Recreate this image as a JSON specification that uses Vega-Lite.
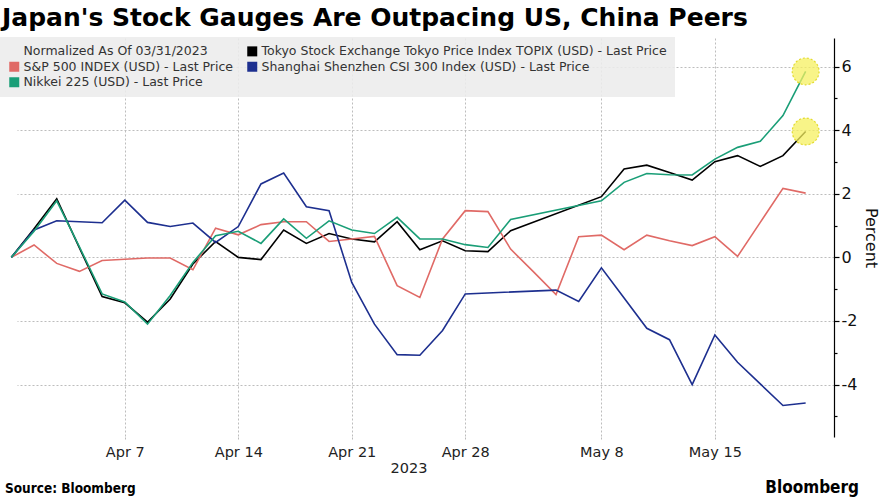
{
  "$schema": "https://vega.github.io/schema/vega-lite/v6.json",
  "background": "white",
  "padding": {"left": 0, "top": 6, "right": 2, "bottom": 2},
  "config": {"view": {"stroke": null}, "font": "DejaVu Sans", "concat": {"spacing": 0}},
  "title": {"text": "Japan's Stock Gauges Are Outpacing US, China Peers", "anchor": "start", "font": "DejaVu Sans", "fontWeight": "bold", "fontSize": 25, "color": "#000", "offset": 6, "dx": 2},
  "datasets": {
    "names": [
      {"code": "TOPIX", "name": "Tokyo Stock Exchange Tokyo Price Index TOPIX (USD) - Last Price"},
      {"code": "SPX", "name": "S&P 500 INDEX (USD) - Last Price"},
      {"code": "CSI", "name": "Shanghai Shenzhen CSI 300 Index (USD) - Last Price"},
      {"code": "NKY", "name": "Nikkei 225 (USD) - Last Price"}
    ],
    "prices": [
      {"date": "2023-03-31", "code": "TOPIX", "value": 0},
      {"date": "2023-04-03", "code": "TOPIX", "value": 0.9},
      {"date": "2023-04-04", "code": "TOPIX", "value": 1.84},
      {"date": "2023-04-05", "code": "TOPIX", "value": 0.3},
      {"date": "2023-04-06", "code": "TOPIX", "value": -1.23},
      {"date": "2023-04-07", "code": "TOPIX", "value": -1.43},
      {"date": "2023-04-10", "code": "TOPIX", "value": -2.04},
      {"date": "2023-04-11", "code": "TOPIX", "value": -1.31},
      {"date": "2023-04-12", "code": "TOPIX", "value": -0.21},
      {"date": "2023-04-13", "code": "TOPIX", "value": 0.5},
      {"date": "2023-04-14", "code": "TOPIX", "value": 0.0},
      {"date": "2023-04-17", "code": "TOPIX", "value": -0.07},
      {"date": "2023-04-18", "code": "TOPIX", "value": 0.86},
      {"date": "2023-04-19", "code": "TOPIX", "value": 0.44},
      {"date": "2023-04-20", "code": "TOPIX", "value": 0.75},
      {"date": "2023-04-21", "code": "TOPIX", "value": 0.58},
      {"date": "2023-04-24", "code": "TOPIX", "value": 0.49},
      {"date": "2023-04-25", "code": "TOPIX", "value": 1.12},
      {"date": "2023-04-26", "code": "TOPIX", "value": 0.24},
      {"date": "2023-04-27", "code": "TOPIX", "value": 0.52},
      {"date": "2023-04-28", "code": "TOPIX", "value": 0.21},
      {"date": "2023-05-01", "code": "TOPIX", "value": 0.18},
      {"date": "2023-05-02", "code": "TOPIX", "value": 0.84},
      {"date": "2023-05-08", "code": "TOPIX", "value": 1.91},
      {"date": "2023-05-09", "code": "TOPIX", "value": 2.78},
      {"date": "2023-05-10", "code": "TOPIX", "value": 2.9},
      {"date": "2023-05-11", "code": "TOPIX", "value": 2.67},
      {"date": "2023-05-12", "code": "TOPIX", "value": 2.43},
      {"date": "2023-05-15", "code": "TOPIX", "value": 3.01},
      {"date": "2023-05-16", "code": "TOPIX", "value": 3.2},
      {"date": "2023-05-17", "code": "TOPIX", "value": 2.86},
      {"date": "2023-05-18", "code": "TOPIX", "value": 3.2},
      {"date": "2023-05-19", "code": "TOPIX", "value": 3.96},
      {"date": "2023-03-31", "code": "SPX", "value": 0},
      {"date": "2023-04-03", "code": "SPX", "value": 0.39},
      {"date": "2023-04-04", "code": "SPX", "value": -0.19},
      {"date": "2023-04-05", "code": "SPX", "value": -0.44},
      {"date": "2023-04-06", "code": "SPX", "value": -0.1},
      {"date": "2023-04-10", "code": "SPX", "value": -0.02},
      {"date": "2023-04-11", "code": "SPX", "value": -0.02},
      {"date": "2023-04-12", "code": "SPX", "value": -0.39},
      {"date": "2023-04-13", "code": "SPX", "value": 0.92},
      {"date": "2023-04-14", "code": "SPX", "value": 0.71},
      {"date": "2023-04-17", "code": "SPX", "value": 1.03},
      {"date": "2023-04-18", "code": "SPX", "value": 1.12},
      {"date": "2023-04-19", "code": "SPX", "value": 1.12},
      {"date": "2023-04-20", "code": "SPX", "value": 0.5},
      {"date": "2023-04-21", "code": "SPX", "value": 0.58},
      {"date": "2023-04-24", "code": "SPX", "value": 0.66},
      {"date": "2023-04-25", "code": "SPX", "value": -0.89},
      {"date": "2023-04-26", "code": "SPX", "value": -1.26},
      {"date": "2023-04-27", "code": "SPX", "value": 0.58},
      {"date": "2023-04-28", "code": "SPX", "value": 1.47},
      {"date": "2023-05-01", "code": "SPX", "value": 1.44},
      {"date": "2023-05-02", "code": "SPX", "value": 0.26},
      {"date": "2023-05-03", "code": "SPX", "value": -0.45},
      {"date": "2023-05-04", "code": "SPX", "value": -1.17},
      {"date": "2023-05-05", "code": "SPX", "value": 0.65},
      {"date": "2023-05-08", "code": "SPX", "value": 0.7},
      {"date": "2023-05-09", "code": "SPX", "value": 0.24},
      {"date": "2023-05-10", "code": "SPX", "value": 0.7},
      {"date": "2023-05-11", "code": "SPX", "value": 0.52},
      {"date": "2023-05-12", "code": "SPX", "value": 0.37},
      {"date": "2023-05-15", "code": "SPX", "value": 0.65},
      {"date": "2023-05-16", "code": "SPX", "value": 0.03},
      {"date": "2023-05-17", "code": "SPX", "value": 1.1},
      {"date": "2023-05-18", "code": "SPX", "value": 2.17},
      {"date": "2023-05-19", "code": "SPX", "value": 2.02},
      {"date": "2023-03-31", "code": "CSI", "value": 0},
      {"date": "2023-04-03", "code": "CSI", "value": 0.86},
      {"date": "2023-04-04", "code": "CSI", "value": 1.15},
      {"date": "2023-04-06", "code": "CSI", "value": 1.09},
      {"date": "2023-04-07", "code": "CSI", "value": 1.8},
      {"date": "2023-04-10", "code": "CSI", "value": 1.1},
      {"date": "2023-04-11", "code": "CSI", "value": 0.97},
      {"date": "2023-04-12", "code": "CSI", "value": 1.08},
      {"date": "2023-04-13", "code": "CSI", "value": 0.47},
      {"date": "2023-04-14", "code": "CSI", "value": 0.97},
      {"date": "2023-04-17", "code": "CSI", "value": 2.31},
      {"date": "2023-04-18", "code": "CSI", "value": 2.65},
      {"date": "2023-04-19", "code": "CSI", "value": 1.59},
      {"date": "2023-04-20", "code": "CSI", "value": 1.47},
      {"date": "2023-04-21", "code": "CSI", "value": -0.79},
      {"date": "2023-04-24", "code": "CSI", "value": -2.1},
      {"date": "2023-04-25", "code": "CSI", "value": -3.06},
      {"date": "2023-04-26", "code": "CSI", "value": -3.08},
      {"date": "2023-04-27", "code": "CSI", "value": -2.3},
      {"date": "2023-04-28", "code": "CSI", "value": -1.15},
      {"date": "2023-05-04", "code": "CSI", "value": -1.03},
      {"date": "2023-05-05", "code": "CSI", "value": -1.39},
      {"date": "2023-05-08", "code": "CSI", "value": -0.33},
      {"date": "2023-05-09", "code": "CSI", "value": -1.28},
      {"date": "2023-05-10", "code": "CSI", "value": -2.23},
      {"date": "2023-05-11", "code": "CSI", "value": -2.59},
      {"date": "2023-05-12", "code": "CSI", "value": -4.0},
      {"date": "2023-05-15", "code": "CSI", "value": -2.44},
      {"date": "2023-05-16", "code": "CSI", "value": -3.3},
      {"date": "2023-05-17", "code": "CSI", "value": -3.98},
      {"date": "2023-05-18", "code": "CSI", "value": -4.66},
      {"date": "2023-05-19", "code": "CSI", "value": -4.58},
      {"date": "2023-03-31", "code": "NKY", "value": 0},
      {"date": "2023-04-03", "code": "NKY", "value": 0.82},
      {"date": "2023-04-04", "code": "NKY", "value": 1.78},
      {"date": "2023-04-05", "code": "NKY", "value": 0.33},
      {"date": "2023-04-06", "code": "NKY", "value": -1.15},
      {"date": "2023-04-07", "code": "NKY", "value": -1.4},
      {"date": "2023-04-10", "code": "NKY", "value": -2.1},
      {"date": "2023-04-11", "code": "NKY", "value": -1.2},
      {"date": "2023-04-12", "code": "NKY", "value": -0.16},
      {"date": "2023-04-13", "code": "NKY", "value": 0.68},
      {"date": "2023-04-14", "code": "NKY", "value": 0.82},
      {"date": "2023-04-17", "code": "NKY", "value": 0.44},
      {"date": "2023-04-18", "code": "NKY", "value": 1.21},
      {"date": "2023-04-19", "code": "NKY", "value": 0.6},
      {"date": "2023-04-20", "code": "NKY", "value": 1.15},
      {"date": "2023-04-21", "code": "NKY", "value": 0.86},
      {"date": "2023-04-24", "code": "NKY", "value": 0.75},
      {"date": "2023-04-25", "code": "NKY", "value": 1.26},
      {"date": "2023-04-26", "code": "NKY", "value": 0.58},
      {"date": "2023-04-27", "code": "NKY", "value": 0.58},
      {"date": "2023-04-28", "code": "NKY", "value": 0.4},
      {"date": "2023-05-01", "code": "NKY", "value": 0.31},
      {"date": "2023-05-02", "code": "NKY", "value": 1.19},
      {"date": "2023-05-08", "code": "NKY", "value": 1.78},
      {"date": "2023-05-09", "code": "NKY", "value": 2.36},
      {"date": "2023-05-10", "code": "NKY", "value": 2.64},
      {"date": "2023-05-11", "code": "NKY", "value": 2.6},
      {"date": "2023-05-12", "code": "NKY", "value": 2.59},
      {"date": "2023-05-15", "code": "NKY", "value": 3.09},
      {"date": "2023-05-16", "code": "NKY", "value": 3.46},
      {"date": "2023-05-17", "code": "NKY", "value": 3.65},
      {"date": "2023-05-18", "code": "NKY", "value": 4.46},
      {"date": "2023-05-19", "code": "NKY", "value": 5.85}
    ]
  },
  "vconcat": [
    {
      "title": {"text": "Bloomberg", "orient": "bottom", "anchor": "end", "font": "DejaVu Sans Condensed, DejaVu Sans", "fontWeight": "bold", "fontSize": 17, "color": "#000", "offset": -16, "dx": -20},
      "vconcat": [
        {
          "title": {"text": "Source: Bloomberg", "orient": "bottom", "anchor": "start", "font": "DejaVu Sans Condensed, DejaVu Sans", "fontWeight": "bold", "fontSize": 13.5, "color": "#000", "offset": 7, "dx": 5},
          "width": 834,
          "height": 399,
          "data": {"name": "prices"},
          "transform": [
            {"lookup": "code", "from": {"data": {"name": "names"}, "key": "code", "fields": ["name"]}}
          ],
          "resolve": {"axis": {"y": "independent"}},
          "layer": [
            {
              "mark": {"type": "line", "strokeWidth": 1.6, "clip": true},
              "encoding": {
                "x": {
                  "field": "date", "type": "ordinal",
                  "scale": {"type": "point", "range": [0, 817]},
                  "axis": {
                    "title": "2023",
                    "values": ["2023-04-07", "2023-04-14", "2023-04-21", "2023-04-28", "2023-05-08", "2023-05-15"],
                    "labelExpr": "utcFormat(toDate(datum.value), '%b %-d')",
                    "labelAngle": 0, "labelFont": "DejaVu Sans", "labelFontSize": 14.5, "labelColor": "#222", "labelPadding": 4,
                    "domain": false, "ticks": true, "tickSize": 4, "tickColor": "#bbbbbb", "tickDash": [2, 2],
                    "grid": true, "gridColor": "#bdbdbd", "gridDash": [2, 2], "gridWidth": 1,
                    "titleFont": "DejaVu Sans", "titleFontSize": 14.5, "titleFontWeight": "normal", "titleColor": "#222", "titlePadding": 3
                  }
                },
                "y": {
                  "field": "value", "type": "quantitative",
                  "scale": {"domain": [-5.65, 6.9], "nice": false, "zero": false},
                  "axis": {
                    "orient": "right", "title": "Percent",
                    "values": [-4, -2, 0, 2, 4, 6],
                    "labelExpr": "replace(datum.label, '\u2212', '-')",
                    "labelFont": "DejaVu Sans", "labelFontSize": 16, "labelColor": "#111", "labelPadding": 2,
                    "domain": true, "domainColor": "#000", "domainWidth": 1.2,
                    "ticks": true, "tickColor": "#000", "tickWidth": 1.2, "tickSize": 5,
                    "grid": true, "gridColor": "#bdbdbd", "gridDash": [2, 2],
                    "titleFont": "DejaVu Sans", "titleFontSize": 16, "titleFontWeight": "normal", "titleColor": "#111", "titlePadding": 6
                  }
                },
                "color": {
                  "field": "name", "type": "nominal",
                  "scale": {
                    "domain": ["Normalized As Of 03/31/2023", "S&P 500 INDEX (USD) - Last Price", "Nikkei 225 (USD) - Last Price", "Tokyo Stock Exchange Tokyo Price Index TOPIX (USD) - Last Price", "Shanghai Shenzhen CSI 300 Index (USD) - Last Price"],
                    "range": ["rgba(0,0,0,0)", "#e06a66", "#1a9e77", "#000000", "#1d2f8f"]
                  },
                  "legend": {
                    "title": null, "orient": "none", "legendX": 0, "legendY": -1, "direction": "vertical", "columns": 2,
                    "fillColor": "rgba(236,236,236,0.88)", "padding": 8,
                    "symbolType": "square", "symbolSize": 100, "symbolStrokeWidth": 0,
                    "labelFont": "DejaVu Sans", "labelFontSize": 12.5, "labelColor": "#333", "labelOffset": 3, "labelLimit": 600,
                    "rowPadding": 2.5, "columnPadding": 12,
                    "encode": {"symbols": {"update": {"fill": {"scale": "color", "field": "value"}, "fillOpacity": {"value": 1}, "strokeWidth": {"value": 0}}}}
                  }
                }
              }
            },
            {
              "transform": [{"filter": "datum.date === '2023-05-19' && (datum.code === 'NKY' || datum.code === 'TOPIX')"}],
              "mark": {"type": "point", "shape": "circle", "size": 720, "filled": true, "fill": "#f5f060", "fillOpacity": 0.75, "stroke": "#e2da2c", "strokeDash": [2, 2], "strokeWidth": 1.2, "strokeOpacity": 1},
              "encoding": {
                "x": {"field": "date", "type": "ordinal"},
                "y": {"field": "value", "type": "quantitative", "axis": null}
              }
            },
            {
              "mark": {"type": "point", "opacity": 0},
              "encoding": {
                "x": {"field": "date", "type": "ordinal"},
                "y": {
                  "field": "value", "type": "quantitative",
                  "axis": {"orient": "right", "title": null, "values": [-5, -3, -1, 1, 3, 5], "labels": false, "grid": false, "domain": false, "ticks": true, "tickSize": 3, "tickColor": "#000", "tickWidth": 1.2}
                }
              }
            }
          ]
        }
      ]
    }
  ]
}
